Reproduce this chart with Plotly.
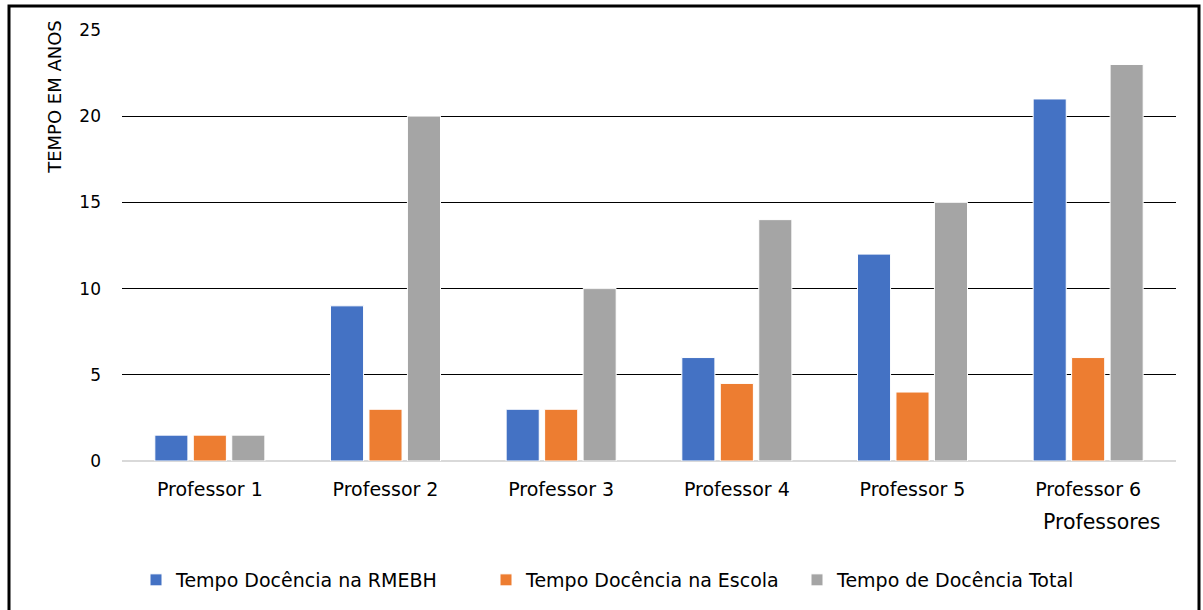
import plotly.graph_objects as go

professores = ["Professor 1", "Professor 2", "Professor 3", "Professor 4", "Professor 5", "Professor 6"]
rmebh = [1.5, 9, 3, 6, 12, 21]
escola = [1.5, 3, 3, 4.5, 4, 6]
total = [1.5, 20, 10, 14, 15, 23]
y_ticks = [0, 5, 10, 15, 20, 25]

FONT = "DejaVu Sans"
L, R, T, B = 122, 27, 30, 148
W, H = 1203, 610
pw, ph = W - L - R, H - T - B


def px_x(x):
    return (x - L) / pw


def px_y(y):
    return (H - B - y) / ph


series = [
    ("Tempo Docência na RMEBH", rmebh, "#4472C4", "legend", 136),
    ("Tempo Docência na Escola", escola, "#ED7D31", "legend2", 486),
    ("Tempo de Docência Total", total, "#A5A5A5", "legend3", 797),
]

fig = go.Figure()
legends = {}
for name, vals, color, leg, lx in series:
    fig.add_trace(go.Bar(x=professores, y=vals, name=name, legend=leg,
                         marker=dict(color=color, line=dict(color="white", width=1))))
    legends[leg] = dict(orientation="h", x=px_x(lx), y=px_y(580), xanchor="left", yanchor="middle",
                        font=dict(size=19, family=FONT, color="#000000"),
                        bgcolor="rgba(0,0,0,0)")

fig.update_layout(
    width=W, height=H,
    margin=dict(l=L, r=R, t=T, b=B),
    paper_bgcolor="white", plot_bgcolor="white",
    barmode="group", bargap=0.343, bargroupgap=0.14,
    font=dict(family=FONT, color="#000000"),
    showlegend=True,
    xaxis=dict(showgrid=False, showline=False, ticks="", tickfont=dict(size=19, family=FONT),
               ticklabelstandoff=15),
    yaxis=dict(range=[0, 25], tickvals=y_ticks, showgrid=True, gridcolor="#000000", gridwidth=1,
               zeroline=True, zerolinecolor="#d9d9d9", zerolinewidth=2,
               showline=False, ticks="", tickfont=dict(size=17, family=FONT),
               ticklabelstandoff=20),
    annotations=[
        dict(text="TEMPO EM ANOS", textangle=-90, x=px_x(55), y=px_y(97), xref="paper", yref="paper",
             showarrow=False, font=dict(size=18, family=FONT), xanchor="center", yanchor="middle"),
        dict(text="Professores", x=px_x(1102), y=px_y(523), xref="paper", yref="paper",
             showarrow=False, font=dict(size=20.5, family=FONT), xanchor="center", yanchor="middle"),
    ],
    shapes=[
        dict(type="rect", xref="paper", yref="paper", x0=px_x(9), x1=px_x(1199), y0=px_y(614), y1=px_y(6),
             line=dict(color="#000000", width=3), layer="above"),
    ],
    **legends,
)

fig.write_html("out.html")
